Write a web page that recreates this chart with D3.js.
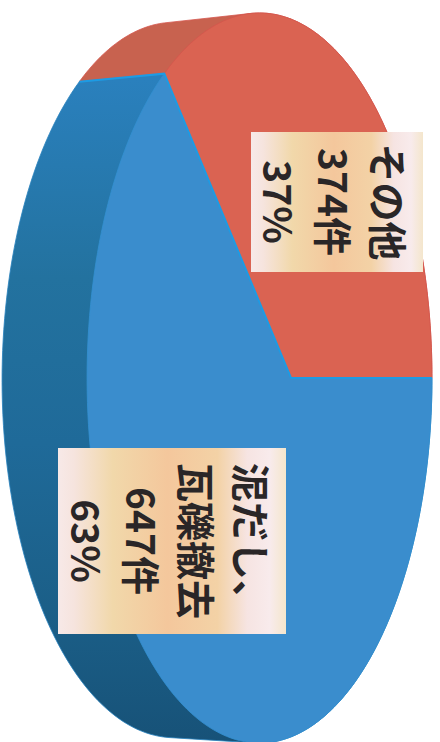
<!DOCTYPE html>
<html><head><meta charset="utf-8">
<script src="https://cdn.jsdelivr.net/npm/d3@7/dist/d3.min.js"></script>
<style>html,body{margin:0;padding:0;background:#fff}svg{display:block}</style>
</head><body><svg id="c" width="440" height="742"></svg>
<script>
const categories = ["泥だし、瓦礫撤去", "その他"];
const counts = [647, 374];
const labelLines = [["泥だし、", "瓦礫撤去", "647件", "63%"], ["その他", "374件", "37%"]];
const faceColors = ["#3a8dcd", "#da6352"];

const svg = d3.select("#c");
const defs = svg.append("defs");

// pie layout: starts at 3 o'clock of the picture, clockwise
const arcs = d3.pie().sort(null).startAngle(Math.PI/2).endAngle(Math.PI/2 + 2*Math.PI)(counts);

// perspective projection of the disc
const persp = 0.1826, ax = 166.7, ay = 358.9, fx0 = 291, fy0 = 378;
function front(a){
  const u = Math.sin(a), v = -Math.cos(a), w = 1 + persp*u;
  return [fx0 + ax*u/w, fy0 + ay*v/w];
}
const toBack = p => [p[0] - 85, 380 + (p[1]-378)*0.98];
const back = a => toBack(front(a));
const centre = [fx0, fy0];
const line = d3.line();
const angles = d => d3.range(0, 161).map(i => d.startAngle + (d.endAngle-d.startAngle)*i/160);

// gradients
const g1 = defs.append("linearGradient").attr("id","wallBlue").attr("gradientUnits","userSpaceOnUse")
  .attr("x1",0).attr("x2",0).attr("y1",80).attr("y2",740);
[[0,"#2a80bd"],[0.3,"#23729f"],[0.55,"#1f6a99"],[0.8,"#1b5f88"],[1,"#175278"]].forEach(s=>g1.append("stop").attr("offset",s[0]).attr("stop-color",s[1]));
const boxGrad = defs.append("linearGradient").attr("id","box");
[[0,"#f7e9e8"],[0.07,"#f6e4de"],[0.24,"#f1d8aa"],[0.48,"#f4c79c"],[0.7,"#f3d2a6"],[0.83,"#f6e4e2"],[0.93,"#f8ebec"],[1,"#f4e6cc"]]
  .forEach(s=>boxGrad.append("stop").attr("offset",s[0]).attr("stop-color",s[1]));

// side walls: the hull of both rims, so the silhouette bridges them with tangents
const wallFill = ["url(#wallBlue)", "#c8624f"];
[1,0].forEach(i=>{
  const as = angles(arcs[i]);
  const hull = d3.polygonHull(as.map(front).concat(as.map(back)));
  svg.append("path").attr("d", line(hull)+"Z").attr("fill", wallFill[i]).attr("stroke", i ? "#d4564c" : "#2680bc").attr("stroke-width",0.8);
});
// faces
arcs.forEach((d,i)=>{
  const pts = [centre].concat(angles(d).map(front));
  svg.append("path").attr("d", line(pts)+"Z").attr("fill", faceColors[i])
    .attr("stroke", i ? "#d4564c" : "#3490d2").attr("stroke-width",0.8);
});
// bright edges of the blue slice
const b = arcs[0];
svg.append("path").attr("d", line([front(b.startAngle), centre, front(b.endAngle), back(b.endAngle)]))
  .attr("fill","none").attr("stroke","#1d9be4").attr("stroke-width",2);

// labels
const boxes = [{x:58,y:448,w:228,h:186,xs:[253,198,143,88]},{x:251,y:132,w:172,h:140,xs:[390,335,280]}];
boxes.forEach((bx,i)=>{
  svg.append("rect").attr("x",bx.x).attr("y",bx.y).attr("width",bx.w).attr("height",bx.h).attr("fill","url(#box)");
  labelLines[i].forEach((t,j)=>{
    const cy = bx.y+bx.h/2;
    svg.append("text").text(t)
      .attr("transform",`translate(${bx.xs[j]},${cy}) rotate(90)`)
      .attr("text-anchor","middle").attr("dominant-baseline","central")
      .attr("font-family","'Noto Sans CJK JP'").attr("font-size",39).attr("font-weight",700)
      .attr("fill","#2a2627");
  });
});
</script></body></html>
